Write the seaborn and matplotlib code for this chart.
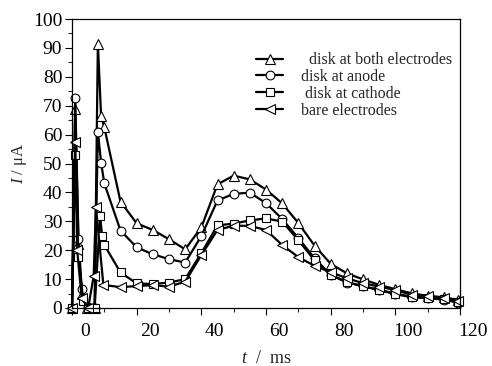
import pandas as pd
import matplotlib
matplotlib.use('Agg')
import matplotlib.pyplot as plt
from matplotlib.ticker import MultipleLocator
from matplotlib.transforms import ScaledTranslation
import seaborn as sns

sns.set_theme(style='ticks')
plt.rcParams['font.family'] = ['Liberation Serif', 'DejaVu Serif']
plt.rcParams['mathtext.fontset'] = 'custom'
plt.rcParams['mathtext.rm'] = 'Liberation Serif'
plt.rcParams['mathtext.it'] = 'Liberation Serif:italic'

# ---------------- data ----------------
series_names = ['disk at both electrodes', 'disk at anode', 'disk at cathode', 'bare electrodes']
legend_labels = ['  disk at both electrodes', 'disk at anode', ' disk at cathode', 'bare electrodes']
series_markers = ['^', 'o', 's', '<']
marker_sizes = [7, 6.3, 5.6, 7]

t_both = [0, 1, 2, 3, 4.5, 7, 8, 9, 10, 15, 20, 25, 30, 35, 40, 45, 50, 55, 60, 65,
          70, 75, 80, 85, 90, 95, 100, 105, 110, 115, 119.5]
i_both = [0, 69, 22, 5, 0, 0, 91.5, 66.5, 62.5, 36.8, 29.3, 27, 23.8, 20.3, 27.9, 42.8,
          45.8, 44.5, 41, 36.2, 29.4, 21.6, 15.3, 12, 9.9, 8, 6.5, 5.1, 4.2, 3.7, 2.8]

t_anode = [0, 1, 2, 3, 5, 7, 8, 9, 10, 15, 20, 25, 30, 35, 40, 45, 50, 55, 60, 65,
           70, 75, 80, 85, 90, 95, 100, 105, 110, 115, 119.5]
i_anode = [0, 72.5, 24, 6.5, 0.5, 0, 61, 50.3, 43.1, 26.8, 21, 18.6, 16.9, 15.7, 24.9, 37.2,
           39.5, 39.9, 36.3, 30.8, 24.2, 17.2, 11.5, 8.8, 7.6, 6.2, 4.8, 3.7, 3.4, 2.9, 1.8]

t_cathode = [0, 1, 2, 3.5, 5, 7, 8.7, 9.3, 10, 15, 20, 25, 30, 35, 40, 45, 50, 55, 60, 65,
             70, 75, 80, 85, 90, 95, 100, 105, 110, 115, 119.5]
i_cathode = [0, 53, 17.8, 2.4, 0, 0, 31.8, 25, 21.8, 12.3, 8.5, 8.3, 8.8, 10, 19, 28.6,
             29.2, 30.3, 31, 29.9, 23.5, 16.5, 11.5, 9, 7.5, 6.3, 5, 3.9, 3.6, 3, 2]

t_bare = [0, 1, 1.6, 3, 5, 6.7, 7.4, 9.7, 15, 20, 25, 30, 35, 40, 45, 50, 55, 60, 65,
          70, 75, 80, 85, 90, 95, 100, 105, 110, 115, 119.5]
i_bare = [0, 57.5, 20, 3.4, 0, 11, 35, 8, 7.2, 7.6, 7.9, 7.4, 9.1, 18.3, 27, 28.5, 28.4,
          27, 21.8, 17.6, 14.6, 12.4, 10.3, 8.6, 7.4, 6.2, 4.6, 4, 3.6, 2.4]

x_ticks = [0, 20, 40, 60, 80, 100, 120]
y_ticks = [0, 10, 20, 30, 40, 50, 60, 70, 80, 90, 100]

# ---------------- long table ----------------
frames = []
for name, t, i in zip(series_names,
                      [t_both, t_anode, t_cathode, t_bare],
                      [i_both, i_anode, i_cathode, i_bare]):
    frames.append(pd.DataFrame({'t': t, 'I': i, 'series': name}))
df = pd.concat(frames, ignore_index=True)

# ---------------- figure ----------------
fig = plt.figure(figsize=(4.92, 3.66), dpi=100)
ax = fig.add_axes([72 / 492, 58 / 366, 388 / 492, 289 / 366])

sns.lineplot(data=df, x='t', y='I', hue='series', style='series',
             hue_order=series_names, style_order=series_names,
             markers=dict(zip(series_names, series_markers)), dashes=False,
             palette=['black'] * 4, estimator=None, sort=False,
             linewidth=1.6, markerfacecolor='white', markeredgecolor='black',
             markeredgewidth=0.8, legend=False, clip_on=False, ax=ax)

for line, ms in zip(ax.lines, marker_sizes):
    line.set_markersize(ms)
    line.set_markerfacecolor('white')
    line.set_markeredgecolor('black')
    line.set_color('black')

ax.set_xlim(0, 120)
ax.set_ylim(0, 100)
ax.set_xticks(x_ticks)
ax.set_yticks(y_ticks)
ax.xaxis.set_minor_locator(MultipleLocator(10))
ax.yaxis.set_minor_locator(MultipleLocator(5))
ax.tick_params(which='major', direction='out', length=5, width=0.8, labelsize=14,
               colors='black', top=False, right=False)
ax.tick_params(which='minor', direction='out', length=3, width=0.8, top=False, right=False)
ax.tick_params(axis='x', which='major', pad=6)
ax.tick_params(axis='y', which='major', pad=2)

# tick labels of the x axis sit a bit right of their ticks in the original
shift = ScaledTranslation(13 / 100, 0, fig.dpi_scale_trans)
for lab in ax.get_xticklabels():
    lab.set_transform(lab.get_transform() + shift)

for sp in ax.spines.values():
    sp.set_visible(True)
    sp.set_color('black')
    sp.set_linewidth(0.9)

ax.set_xlabel('$t$  /  ms', fontsize=13, labelpad=7)
ax.set_ylabel('$I$ / μA', fontsize=12, labelpad=3)

ax.legend(ax.lines[:4], legend_labels, loc='upper left',
          bbox_to_anchor=(0.475, 0.885), frameon=False, fontsize=11.5,
          handlelength=1.7, handletextpad=1.1, labelspacing=0.05,
          borderaxespad=0, borderpad=0)

fig.savefig('out.png', dpi=100)
